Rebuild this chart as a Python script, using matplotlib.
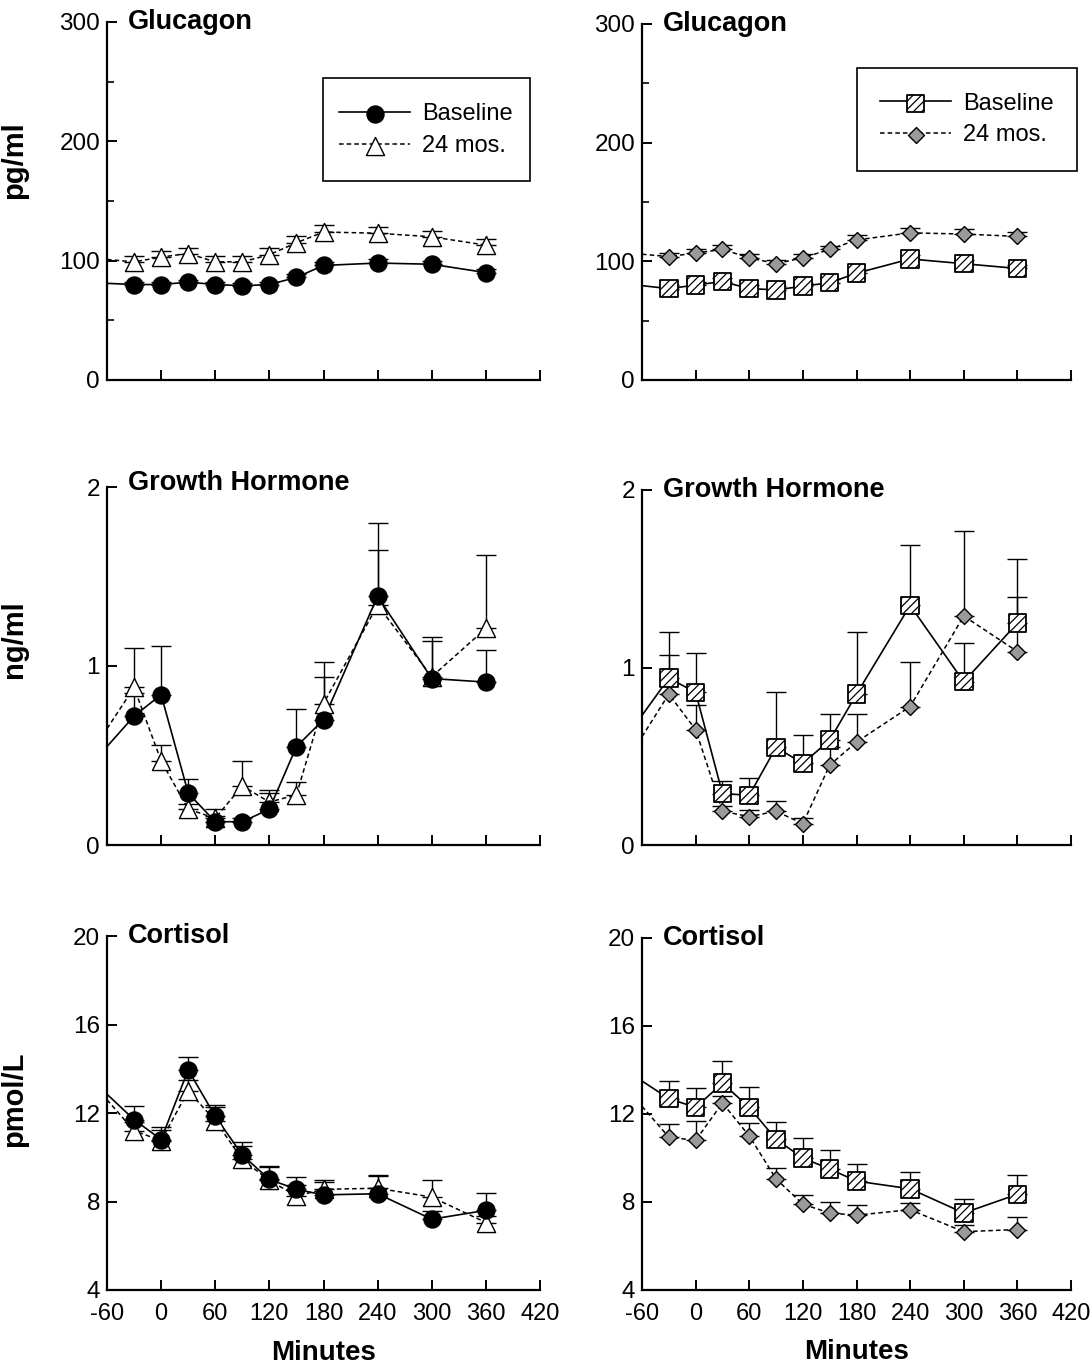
import numpy as np
import matplotlib
matplotlib.use("Agg")
import matplotlib.pyplot as plt
from matplotlib.patches import Rectangle
from matplotlib.legend_handler import HandlerTuple

plt.rcParams['font.family'] = ['Liberation Sans', 'DejaVu Sans']
plt.rcParams['hatch.linewidth'] = 0.9
plt.rcParams['axes.unicode_minus'] = False

# sampling times (minutes); lines also start at -60 without a marker
t_start = -60
times = [-30, 0, 30, 60, 90, 120, 150, 180, 240, 300, 360]

# --- Glucagon (pg/ml) ---
gluc_a_base0, gluc_a_24m0 = 81, 101
gluc_a_base = [80, 80, 82, 80, 79, 80, 86, 96, 98, 97, 90]
gluc_a_base_se = [2, 2, 2, 2, 2, 2, 3, 3, 3, 3, 3]
gluc_a_24m = [99, 103, 106, 99, 99, 105, 115, 124, 123, 120, 113]
gluc_a_24m_se = [5, 5, 5, 5, 5, 6, 6, 6, 5, 5, 5]

gluc_b_base0, gluc_b_24m0 = 79.5, 106
gluc_b_base = [77, 80, 83, 77, 76, 79, 82, 90, 102, 98, 94]
gluc_b_base_se = [3, 3, 3, 3, 3, 3, 3, 3, 3, 3, 3]
gluc_b_24m = [104, 107, 110, 103, 98, 103, 110, 118, 124, 123, 121]
gluc_b_24m_se = [3, 3, 4, 3, 3, 3, 3, 4, 4, 4, 4]

# --- Growth hormone (ng/ml) ---
gh_a_base0, gh_a_24m0 = 0.55, 0.65
gh_a_base = [0.72, 0.84, 0.29, 0.13, 0.13, 0.20, 0.55, 0.70, 1.39, 0.93, 0.91]
gh_a_base_se = [0.13, 0.27, 0.08, 0.03, 0.02, 0.11, 0.21, 0.24, 0.26, 0.21, 0.18]
gh_a_24m = [0.88, 0.47, 0.20, 0.15, 0.33, 0.24, 0.28, 0.79, 1.34, 0.94, 1.21]
gh_a_24m_se = [0.22, 0.09, 0.03, 0.05, 0.14, 0.05, 0.07, 0.23, 0.46, 0.22, 0.41]

gh_b_base0, gh_b_24m0 = 0.73, 0.61
gh_b_base = [0.94, 0.86, 0.29, 0.28, 0.55, 0.46, 0.59, 0.85, 1.35, 0.92, 1.25]
gh_b_base_se = [0.26, 0.22, 0.07, 0.10, 0.31, 0.16, 0.15, 0.35, 0.34, 0.22, 0.36]
gh_b_24m = [0.85, 0.65, 0.19, 0.16, 0.19, 0.12, 0.45, 0.58, 0.78, 1.29, 1.09]
gh_b_24m_se = [0.22, 0.14, 0.03, 0.04, 0.06, 0.03, 0.10, 0.16, 0.25, 0.48, 0.31]

# --- Cortisol (pmol/L) ---
cort_a_base0, cort_a_24m0 = 12.85, 12.6
cort_a_base = [11.7, 10.8, 13.95, 11.85, 10.1, 9.0, 8.55, 8.3, 8.35, 7.2, 7.6]
cort_a_base_se = [0.6, 0.55, 0.6, 0.5, 0.6, 0.6, 0.55, 0.6, 0.8, 0.35, 0.8]
cort_a_24m = [11.2, 10.75, 13.0, 11.65, 9.9, 8.95, 8.25, 8.55, 8.6, 8.2, 7.05]
cort_a_24m_se = [0.4, 0.5, 0.5, 0.6, 0.6, 0.6, 0.5, 0.4, 0.6, 0.75, 0.3]

cort_b_base0, cort_b_24m0 = 13.5, 12.35
cort_b_base = [12.7, 12.3, 13.4, 12.3, 10.85, 10.0, 9.5, 8.95, 8.6, 7.5, 8.35]
cort_b_base_se = [0.8, 0.9, 1.0, 0.95, 0.8, 0.9, 0.85, 0.8, 0.75, 0.65, 0.9]
cort_b_24m = [10.95, 10.8, 12.5, 11.0, 9.05, 7.9, 7.5, 7.4, 7.65, 6.65, 6.75]
cort_b_24m_se = [0.6, 0.9, 0.3, 0.6, 0.5, 0.4, 0.5, 0.45, 0.3, 0.3, 0.55]

titles = ["Glucagon", "Growth Hormone", "Cortisol"]
ylabels = ["pg/ml", "ng/ml", "pmol/L"]
ylims = [(0, 300), (0, 2), (4, 20)]
yticks = [[0, 100, 200, 300], [0, 1, 2], [4, 8, 12, 16, 20]]
xticks = [-60, 0, 60, 120, 180, 240, 300, 360, 420]

W, H = 1090, 1366
fig = plt.figure(figsize=(W / 100, H / 100), dpi=100)

# axes boxes in pixels: left, top, right, bottom
boxes = {
    (0, 0): (107, 22, 540, 380), (0, 1): (642, 24, 1071, 380),
    (1, 0): (107, 487, 540, 845), (1, 1): (642, 490, 1071, 845),
    (2, 0): (107, 936, 540, 1290), (2, 1): (642, 938, 1071, 1290),
}

data = {
    (0, 0): (gluc_a_base0, gluc_a_base, gluc_a_base_se, gluc_a_24m0, gluc_a_24m, gluc_a_24m_se),
    (0, 1): (gluc_b_base0, gluc_b_base, gluc_b_base_se, gluc_b_24m0, gluc_b_24m, gluc_b_24m_se),
    (1, 0): (gh_a_base0, gh_a_base, gh_a_base_se, gh_a_24m0, gh_a_24m, gh_a_24m_se),
    (1, 1): (gh_b_base0, gh_b_base, gh_b_base_se, gh_b_24m0, gh_b_24m, gh_b_24m_se),
    (2, 0): (cort_a_base0, cort_a_base, cort_a_base_se, cort_a_24m0, cort_a_24m, cort_a_24m_se),
    (2, 1): (cort_b_base0, cort_b_base, cort_b_base_se, cort_b_24m0, cort_b_24m, cort_b_24m_se),
}

ylabel_y = [0.615, 0.574, 0.54]

for (r, c), (l, t, rr, b) in boxes.items():
    ax = fig.add_axes([l / W, 1 - b / H, (rr - l) / W, (b - t) / H])
    b0, base, base_se, m0, m24, m24_se = data[(r, c)]
    tx = [t_start] + times

    if c == 0:
        base_kw = dict(marker='o', s=150, facecolor='black', edgecolor='black', lw=1.0)
        m24_kw = dict(marker='^', s=170, facecolor='white', edgecolor='black', lw=1.0)
    else:
        base_kw = dict(marker='s', s=160, facecolor='white', edgecolor='black', lw=1.3, hatch='////')
        m24_kw = dict(marker='D', s=66, facecolor='#9a9a9a', edgecolor='black', lw=1.0)

    # error bars (upper only)
    ax.errorbar(times, base, yerr=[np.zeros(len(base)), base_se], fmt='none',
                ecolor='black', elinewidth=1.0, capsize=7, capthick=1.0, zorder=2)
    ax.errorbar(times, m24, yerr=[np.zeros(len(m24)), m24_se], fmt='none',
                ecolor='black', elinewidth=1.0, capsize=7, capthick=1.0, zorder=2)

    l1, = ax.plot(tx, [b0] + base, color='black', lw=1.2, zorder=2)
    l2, = ax.plot(tx, [m0] + m24, color='black', lw=1.1, ls=(0, (3, 2)), zorder=2)
    s1 = ax.scatter(times, base, zorder=4, **base_kw)
    s2 = ax.scatter(times, m24, zorder=3, **m24_kw)

    ax.set_xlim(-60, 420)
    ax.set_ylim(*ylims[r])
    ax.set_xticks(xticks)
    ax.set_yticks(yticks[r])
    if r == 0:
        ax.set_yticks([50, 150, 250], minor=True)
    for s in ['top', 'right']:
        ax.spines[s].set_visible(False)
    for s in ['left', 'bottom']:
        ax.spines[s].set_linewidth(1.6)
    ax.tick_params(direction='in', length=7, width=1.4, labelsize=17.5)
    ax.tick_params(which='minor', direction='in', length=5, width=1.2)
    ax.tick_params(axis='y', pad=5)
    ax.tick_params(axis='x', pad=9, labelsize=17)
    if r < 2:
        ax.set_xticklabels([])
    else:
        ax.set_xlabel("Minutes", fontsize=20, fontweight='bold')
        ax.xaxis.set_label_coords(0.5, -0.14)

    ax.text(0.048, 1.0 if r != 1 or c == 1 else 1.012, titles[r], transform=ax.transAxes,
            fontsize=19.5, fontweight='bold', va='center', ha='left')

    if c == 0:
        ax.set_ylabel(ylabels[r], fontsize=21, fontweight='bold')
        ax.yaxis.set_label_coords(-0.182, ylabel_y[r])

    if r == 0:
        if c == 0:
            rect = (0.499, 0.556, 0.478, 0.288)
            center = (0.737, 0.698)
        else:
            rect = (0.501, 0.587, 0.513, 0.289)
            center = (0.757, 0.732)
        ax.add_patch(Rectangle(rect[:2], rect[2], rect[3], transform=ax.transAxes,
                               fill=False, edgecolor='black', lw=1.2, clip_on=False))
        ax.legend([(l1, s1), (l2, s2)], ["Baseline", "24 mos."],
                  handler_map={tuple: HandlerTuple(ndivide=1)},
                  loc='center', bbox_to_anchor=center, frameon=False,
                  fontsize=17, handlelength=3.0, handletextpad=0.5,
                  labelspacing=0.4, scatterpoints=1)

fig.savefig("out.png", dpi=100)
